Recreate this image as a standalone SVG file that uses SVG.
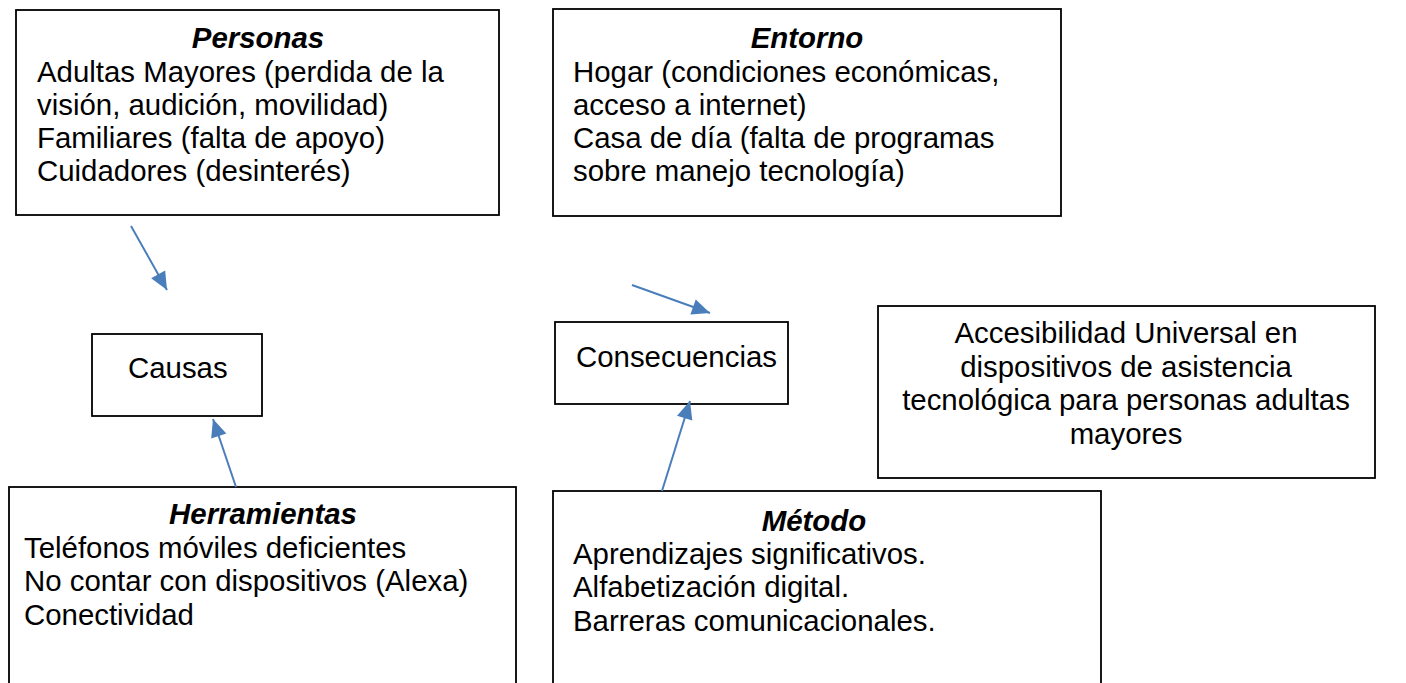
<svg xmlns="http://www.w3.org/2000/svg" width="1406" height="683" viewBox="0 0 1406 683">
<defs>
<style>
.box{fill:#fff;stroke:#000;stroke-width:1.8}
text{font-family:"Liberation Sans",Arial,sans-serif;font-size:29.4px;fill:#000}
.t{font-weight:bold;font-style:italic;text-anchor:middle}
.c{text-anchor:middle}
.con{stroke:#4a7ebb;stroke-width:2;fill:none;marker-end:url(#ah)}
</style>
<marker id="ah" markerUnits="userSpaceOnUse" markerWidth="22" markerHeight="22" viewBox="0 0 22 22" refX="20" refY="11" orient="auto">
<path d="M2,3 L20,11 L2,19 Z" fill="#4a7ebb"/>
</marker>
</defs>
<rect width="1406" height="683" fill="#fff"/>
<g id="personas">
<rect class="box" x="16" y="10" width="483" height="205"/>
<text class="t" x="258" y="48">Personas</text>
<text x="37" y="82">Adultas Mayores (perdida de la</text>
<text x="37" y="115">visión, audición, movilidad)</text>
<text x="37" y="148">Familiares (falta de apoyo)</text>
<text x="37" y="181">Cuidadores (desinterés)</text>
</g>
<g id="entorno">
<rect class="box" x="553" y="9" width="508" height="207"/>
<text class="t" x="807" y="48">Entorno</text>
<text x="573" y="82">Hogar (condiciones económicas,</text>
<text x="573" y="115">acceso a internet)</text>
<text x="573" y="148">Casa de día (falta de programas</text>
<text x="573" y="181">sobre manejo tecnología)</text>
</g>
<g id="causas">
<rect class="box" x="92" y="334" width="170" height="82"/>
<text x="128" y="378">Causas</text>
</g>
<g id="consecuencias">
<rect class="box" x="555" y="322" width="233" height="82"/>
<text x="576" y="367">Consecuencias</text>
</g>
<g id="accesibilidad">
<rect class="box" x="878" y="306" width="497" height="172"/>
<text class="c" x="1126" y="343">Accesibilidad Universal en</text>
<text class="c" x="1126" y="377">dispositivos de asistencia</text>
<text class="c" x="1126" y="410">tecnológica para personas adultas</text>
<text class="c" x="1126" y="444">mayores</text>
</g>
<g id="herramientas">
<rect class="box" x="9" y="487" width="507" height="210"/>
<text class="t" x="263" y="524">Herramientas</text>
<text x="24" y="558">Teléfonos móviles deficientes</text>
<text x="24" y="591">No contar con dispositivos (Alexa)</text>
<text x="24" y="625">Conectividad</text>
</g>
<g id="metodo">
<rect class="box" x="553" y="491" width="548" height="210"/>
<text class="t" x="814" y="531">Método</text>
<text x="573" y="564">Aprendizajes significativos.</text>
<text x="573" y="597">Alfabetización digital.</text>
<text x="573" y="631">Barreras comunicacionales.</text>
</g>
<g id="connectors">
<line class="con" x1="131" y1="226" x2="167" y2="290"/>
<line class="con" x1="632" y1="285" x2="710" y2="313"/>
<line class="con" x1="236" y1="487" x2="213" y2="419"/>
<line class="con" x1="662" y1="491" x2="690" y2="401"/>
</g>
</svg>
